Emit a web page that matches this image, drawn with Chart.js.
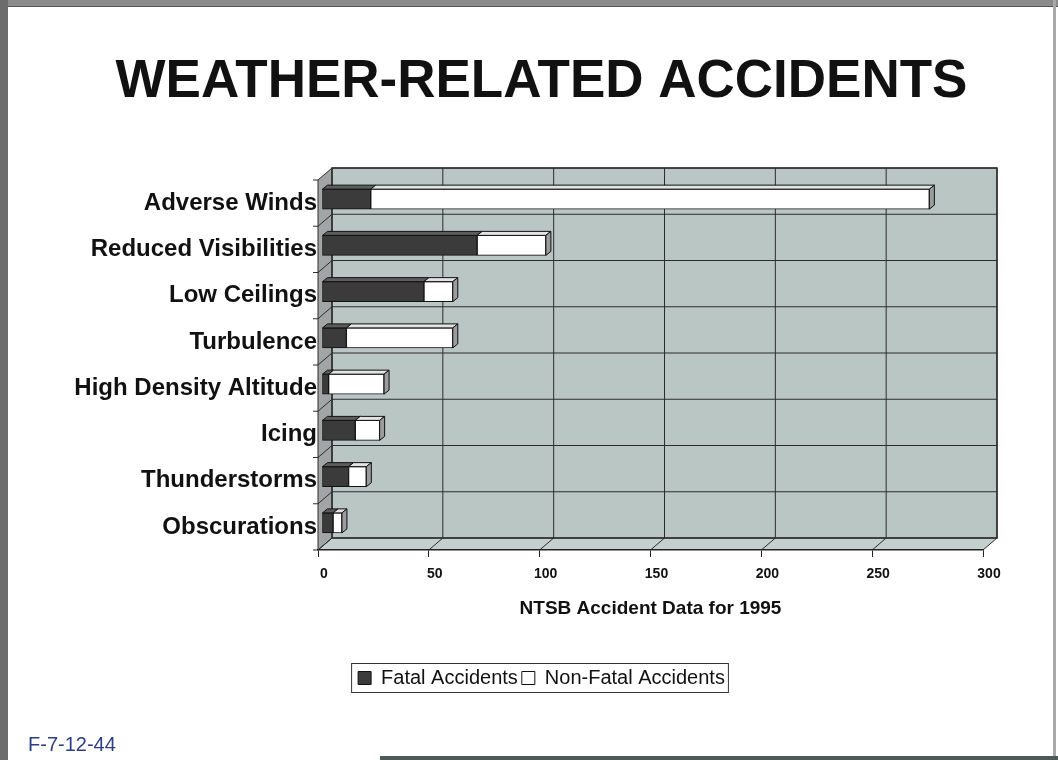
<!DOCTYPE html>
<html>
<head>
<meta charset="utf-8">
<title>Weather-related accidents</title>
<script src="https://cdn.jsdelivr.net/npm/chart.js@4.4.0/dist/chart.umd.min.js"></script>
<style>
    html, body { margin: 0; padding: 0; background: #fff; }
    #wrap { width: 1058px; height: 760px; }
</style>
</head>
<body>
<div id="wrap"><canvas id="weatherChart" width="1058" height="760"></canvas></div>
<script>
const categories = ['Adverse Winds', 'Reduced Visibilities', 'Low Ceilings', 'Turbulence',
    'High Density Altitude', 'Icing', 'Thunderstorms', 'Obscurations'];
const fatalAccidents = [22, 70, 46, 11, 3, 15, 12, 5];
const nonFatalAccidents = [252, 31, 13, 48, 25, 11, 8, 4];
const xTickValues = [0, 50, 100, 150, 200, 250, 300];
const seriesNames = ['Fatal Accidents', 'Non-Fatal Accidents'];
const chartTitle = 'WEATHER-RELATED ACCIDENTS';
const axisTitle = 'NTSB Accident Data for 1995';
const slideCode = 'F-7-12-44';

const FONT = "'Liberation Sans', Arial, sans-serif";
// profundidad del "3D"
const WALL_DX = 14, WALL_DY = 12;
const SHIFT_X = 4, SHIFT_Y = 4;
const BAR_DX = 5, BAR_DY = 4;

function line(ctx, x1, y1, x2, y2) {
    ctx.beginPath();
    ctx.moveTo(x1, y1);
    ctx.lineTo(x2, y2);
    ctx.stroke();
}

function poly(ctx, pts, fill, stroke) {
    ctx.beginPath();
    ctx.moveTo(pts[0][0], pts[0][1]);
    for (let i = 1; i < pts.length; i++) ctx.lineTo(pts[i][0], pts[i][1]);
    ctx.closePath();
    if (fill) { ctx.fillStyle = fill; ctx.fill(); }
    if (stroke) { ctx.strokeStyle = stroke; ctx.lineWidth = 1; ctx.stroke(); }
}

const depthPlugin = {
    id: 'depth',
    afterLayout(chart) {
        // las etiquetas largas se salen del eje: ampliar la zona de recorte
        chart.scales.y.left = 30;
    },
    beforeDraw(chart) {
        const { ctx, chartArea: a } = chart;
        const x = chart.scales.x, y = chart.scales.y;
        ctx.save();
        ctx.fillStyle = '#fff';
        ctx.fillRect(0, 0, chart.width, chart.height);

        // marco de la diapositiva
        ctx.fillStyle = '#8a8a8a';
        ctx.fillRect(0, 0, chart.width, 6);
        ctx.fillStyle = '#555';
        ctx.fillRect(0, 6, chart.width, 1);
        ctx.fillStyle = '#6c6c6c';
        ctx.fillRect(0, 0, 8, chart.height);
        ctx.fillStyle = '#a9a9a9';
        ctx.fillRect(chart.width - 5, 0, 3, chart.height);
        ctx.fillStyle = '#4c5a58';
        ctx.fillRect(380, chart.height - 4, chart.width - 380, 4);

        // paredes
        const w = a.right - a.left, h = a.bottom - a.top;
        ctx.fillStyle = '#b9c6c4';
        ctx.fillRect(a.left + WALL_DX, a.top - WALL_DY, w, h);
        poly(ctx, [[a.left, a.top], [a.left + WALL_DX, a.top - WALL_DY],
            [a.left + WALL_DX, a.bottom - WALL_DY], [a.left, a.bottom]], '#a2a5a5', null);
        poly(ctx, [[a.left, a.bottom], [a.left + WALL_DX, a.bottom - WALL_DY],
            [a.right + WALL_DX, a.bottom - WALL_DY], [a.right, a.bottom]], '#c5cfcd', null);

        ctx.strokeStyle = '#2c2c2c';
        ctx.lineWidth = 1;
        xTickValues.forEach(v => {
            const px = x.getPixelForValue(v);
            line(ctx, px + WALL_DX, a.top - WALL_DY, px + WALL_DX, a.bottom - WALL_DY);
            line(ctx, px, a.bottom, px + WALL_DX, a.bottom - WALL_DY);
        });

        const step = y.getPixelForValue(1) - y.getPixelForValue(0);
        const first = y.getPixelForValue(0) - step / 2;
        for (let i = 0; i <= categories.length; i++) {
            const yb = first + i * step;
            line(ctx, a.left + WALL_DX, yb - WALL_DY, a.right + WALL_DX, yb - WALL_DY);
            line(ctx, a.left, yb, a.left + WALL_DX, yb - WALL_DY);
            line(ctx, a.left - 5, yb, a.left, yb);
        }
        line(ctx, a.left, a.top, a.left, a.bottom);
        ctx.lineWidth = 1.5;
        ctx.strokeRect(a.left + WALL_DX, a.top - WALL_DY, w, h);
        ctx.restore();
    },
    beforeDatasetsDraw(chart) {
        chart.ctx.save();
        chart.ctx.translate(SHIFT_X, -SHIFT_Y);
    },
    afterDatasetsDraw(chart) {
        const ctx = chart.ctx;
        const topColors = ['#5c5c5c', '#e3e3e3'];
        chart.data.datasets.forEach((ds, d) => {
            chart.getDatasetMeta(d).data.forEach(bar => {
                const p = bar.getProps(['x', 'y', 'base', 'height'], true);
                if (Math.abs(p.x - p.base) < 0.5) return;
                const yTop = p.y - p.height / 2;
                poly(ctx, [[p.base, yTop], [p.base + BAR_DX, yTop - BAR_DY],
                    [p.x + BAR_DX, yTop - BAR_DY], [p.x, yTop]], topColors[d], '#111');
            });
        });
        // tapa del extremo de cada barra
        categories.forEach((c, i) => {
            const last = nonFatalAccidents[i] > 0 ? 1 : 0;
            const p = chart.getDatasetMeta(last).data[i].getProps(['x', 'y', 'base', 'height'], true);
            const yTop = p.y - p.height / 2, yBot = p.y + p.height / 2;
            poly(ctx, [[p.x, yTop], [p.x + BAR_DX, yTop - BAR_DY],
                [p.x + BAR_DX, yBot - BAR_DY], [p.x, yBot]], '#9c9c9c', '#111');
        });
        ctx.restore();
    },
    afterDraw(chart) {
        const ctx = chart.ctx;
        const boxes = chart.legend.legendHitBoxes;
        ctx.save();
        if (boxes && boxes.length) {
            const b0 = boxes[0], bl = boxes[boxes.length - 1];
            ctx.strokeStyle = '#333';
            ctx.lineWidth = 1;
            ctx.strokeRect(b0.left - 6.5, b0.top - 4.5, bl.left + bl.width - b0.left + 10, b0.height + 9);
        }
        ctx.fillStyle = '#2c3f86';
        ctx.font = '20px ' + FONT;
        ctx.textBaseline = 'middle';
        ctx.fillText(slideCode, 28, 745);
        ctx.restore();
    }
};

const chart = new Chart(document.getElementById('weatherChart'), {
    type: 'bar',
    data: {
        labels: categories,
        datasets: [{
            label: seriesNames[0],
            data: fatalAccidents,
            backgroundColor: '#3b3b3b',
            borderColor: '#111',
            borderWidth: 1,
            borderSkipped: false,
            barThickness: 20
        }, {
            label: seriesNames[1],
            data: nonFatalAccidents,
            backgroundColor: '#ffffff',
            borderColor: '#111',
            borderWidth: 1,
            borderSkipped: false,
            barThickness: 20
        }]
    },
    options: {
        responsive: false,
        animation: false,
        indexAxis: 'y',
        layout: {
            padding: { left: 100, right: 75, top: 0, bottom: 62 }
        },
        plugins: {
            title: {
                display: true,
                text: chartTitle,
                color: '#111',
                font: { family: FONT, size: 53, weight: 'bold' },
                padding: { top: 51, bottom: 65.4 }
            },
            legend: {
                position: 'bottom',
                labels: {
                    color: '#111',
                    font: { family: FONT, size: 20 },
                    boxWidth: 13,
                    boxHeight: 13,
                    padding: 4
                }
            },
            tooltip: { enabled: false }
        },
        scales: {
            x: {
                stacked: true,
                min: 0,
                max: 300,
                afterBuildTicks: scale => {
                    scale.ticks = xTickValues.map(v => ({ value: v }));
                },
                afterFit: scale => {
                    scale.height = 114;
                },
                ticks: {
                    color: '#111',
                    font: { family: FONT, size: 14, weight: 'bold' },
                    padding: 9,
                    labelOffset: 6,
                    autoSkip: false,
                    maxRotation: 0
                },
                grid: {
                    drawOnChartArea: false,
                    drawTicks: true,
                    tickLength: 7,
                    tickColor: '#222'
                },
                border: { display: true, color: '#222', width: 1.5 },
                title: {
                    display: true,
                    text: axisTitle,
                    color: '#111',
                    font: { family: FONT, size: 19, weight: 'bold' },
                    padding: { top: 0, bottom: 44 }
                }
            },
            y: {
                stacked: true,
                afterFit: scale => {
                    scale.width = 218;
                },
                ticks: {
                    color: '#111',
                    font: { family: FONT, size: 24, weight: 'bold' },
                    padding: 1,
                    autoSkip: false
                },
                grid: { display: false, drawTicks: false },
                border: { display: false }
            }
        }
    },
    plugins: [depthPlugin]
});
</script>
</body>
</html>
